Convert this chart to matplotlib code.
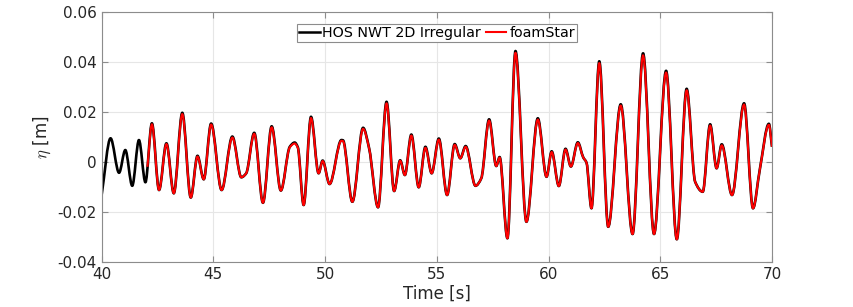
import numpy as np
import matplotlib
matplotlib.use('Agg')
import matplotlib.pyplot as plt
from matplotlib.path import Path
from matplotlib.patches import PathPatch
from matplotlib.lines import Line2D

plt.rcParams['mathtext.fontset'] = 'cm'

# values (time in s, surface elevation in m)
hos_t = [40.00, 40.40, 40.78, 41.06, 41.37, 41.67, 41.96, 42.25, 42.57, 42.90,
         43.23, 43.61, 43.99, 44.29, 44.57, 44.90, 45.37, 45.85, 46.25, 46.47,
         46.83, 47.22, 47.61, 48.02, 48.42, 48.64, 48.78, 49.04, 49.37, 49.71,
         49.89, 50.20, 50.73, 50.80, 51.22, 51.70, 51.97, 52.37, 52.75, 53.09,
         53.36, 53.57, 53.86, 54.19, 54.49, 54.77, 55.09, 55.46, 55.80, 56.05,
         56.29, 56.73, 56.99, 57.34, 57.66, 57.81, 58.16, 58.52, 59.01, 59.52,
         59.91, 60.14, 60.46, 60.76, 61.00, 61.31, 61.55, 61.70, 61.92, 62.27,
         62.67, 63.23, 63.76, 64.23, 64.72, 65.26, 65.74, 66.18, 66.56, 66.90,
         67.23, 67.52, 67.75, 68.21, 68.75, 69.15, 69.45, 69.86, 70.00]
hos_eta = [-0.0131, 0.0096, -0.0042, 0.0049, -0.0094, 0.0089, -0.0080, 0.0156, -0.0111, 0.0076,
           -0.0124, 0.0198, -0.0141, 0.0026, -0.0068, 0.0155, -0.0111, 0.0103, -0.0060, -0.0044,
           0.0118, -0.0162, 0.0144, -0.0113, 0.0062, 0.0079, 0.0060, -0.0171, 0.0182, -0.0044,
           0.0007, -0.0087, 0.0089, 0.0088, -0.0158, 0.0138, 0.0056, -0.0180, 0.0242, -0.0115,
           0.0008, -0.0051, 0.0111, -0.0100, 0.0062, -0.0044, 0.0095, -0.0131, 0.0073, 0.0016,
           0.0065, -0.0094, -0.0064, 0.0172, -0.0015, 0.0021, -0.0304, 0.0445, -0.0238, 0.0176,
           -0.0058, 0.0044, -0.0095, 0.0054, -0.0017, 0.0080, 0.0020, -0.0002, -0.0184, 0.0404,
           -0.0258, 0.0232, -0.0287, 0.0436, -0.0287, 0.0366, -0.0308, 0.0294, -0.0078, -0.0118,
           0.0152, -0.0024, 0.0072, -0.0131, 0.0236, -0.0184, -0.0031, 0.0154, 0.0062]

# foamStar starts a little after 42 s
foam_t = [42.05] + hos_t[7:]
foam_eta = [-0.0018, 0.0152, -0.0111, 0.0073,
            -0.0124, 0.0193, -0.0141, 0.0023, -0.0068, 0.0151, -0.0111, 0.0099, -0.0060, -0.0044,
            0.0114, -0.0162, 0.0140, -0.0113, 0.0060, 0.0075, 0.0058, -0.0171, 0.0177, -0.0044,
            0.0005, -0.0087, 0.0086, 0.0085, -0.0158, 0.0134, 0.0056, -0.0180, 0.0236, -0.0115,
            0.0006, -0.0051, 0.0107, -0.0100, 0.0058, -0.0044, 0.0091, -0.0131, 0.0070, 0.0016,
            0.0062, -0.0094, -0.0064, 0.0167, -0.0015, 0.0019, -0.0304, 0.0438, -0.0238, 0.0171,
            -0.0058, 0.0041, -0.0095, 0.0051, -0.0017, 0.0077, 0.0020, -0.0002, -0.0184, 0.0397,
            -0.0258, 0.0227, -0.0287, 0.0428, -0.0287, 0.0359, -0.0308, 0.0288, -0.0078, -0.0118,
            0.0147, -0.0024, 0.0068, -0.0131, 0.0231, -0.0184, -0.0031, 0.0150, 0.0062]

xticks = [40, 45, 50, 55, 60, 65, 70]
yticks = [-0.04, -0.02, 0, 0.02, 0.04, 0.06]
ytick_labels = ['-0.04', '-0.02', '0', '0.02', '0.04', '0.06']


# draw the read points as one smooth bezier path (flat tangents at the peaks)
def smooth_path(x, y):
    x = np.asarray(x, float)
    y = np.asarray(y, float)
    n = len(x)
    h = np.diff(x)
    d = np.diff(y) / h
    m = np.zeros(n)
    m[0] = d[0]
    m[-1] = d[-1]
    for i in range(1, n - 1):
        if d[i - 1] * d[i] > 0:
            w1 = 2 * h[i] + h[i - 1]
            w2 = h[i] + 2 * h[i - 1]
            m[i] = (w1 + w2) / (w1 / d[i - 1] + w2 / d[i])
    verts = [(x[0], y[0])]
    codes = [Path.MOVETO]
    for i in range(n - 1):
        verts += [(x[i] + h[i] / 3, y[i] + m[i] * h[i] / 3),
                  (x[i + 1] - h[i] / 3, y[i + 1] - m[i + 1] * h[i] / 3),
                  (x[i + 1], y[i + 1])]
        codes += [Path.CURVE4] * 3
    return Path(verts, codes)


fig = plt.figure(figsize=(8.54, 3.07), dpi=100)
ax = fig.add_axes([0.119, 0.1456, 0.785, 0.8144])

ax.add_patch(PathPatch(smooth_path(hos_t, hos_eta), facecolor='none', edgecolor='black',
                       lw=1.9, joinstyle='round', capstyle='butt'))
ax.add_patch(PathPatch(smooth_path(foam_t, foam_eta), facecolor='none', edgecolor='red',
                       lw=1.5, joinstyle='round', capstyle='butt'))

ax.set_xlim(40, 70)
ax.set_ylim(-0.04, 0.06)
ax.set_xticks(xticks)
ax.set_yticks(yticks)
ax.set_yticklabels(ytick_labels)
ax.grid(True, color='#e6e6e6', lw=0.8)
ax.set_axisbelow(True)
for s in ax.spines.values():
    s.set_color('#8c8c8c')
    s.set_linewidth(0.8)
ax.tick_params(direction='in', top=True, right=True, length=4, color='#8c8c8c',
               labelsize=11, labelcolor='#262626')
ax.set_xlabel('Time [s]', fontsize=12, color='#262626', labelpad=2)
ax.set_ylabel(r'$\eta$ [m]', fontsize=12, color='#262626', labelpad=3)

handles = [Line2D([], [], color='black', lw=1.8), Line2D([], [], color='red', lw=1.5)]
leg = ax.legend(handles, ['HOS NWT 2D Irregular', 'foamStar'], loc='upper center',
                bbox_to_anchor=(0.5, 0.955), ncol=2, fontsize=10.3,
                handlelength=1.45, handletextpad=0.2, columnspacing=0.3,
                borderpad=0.15, borderaxespad=0, fancybox=False, framealpha=1,
                edgecolor='#8c8c8c')
leg.get_frame().set_linewidth(0.8)

fig.savefig('out.png', dpi=100)
